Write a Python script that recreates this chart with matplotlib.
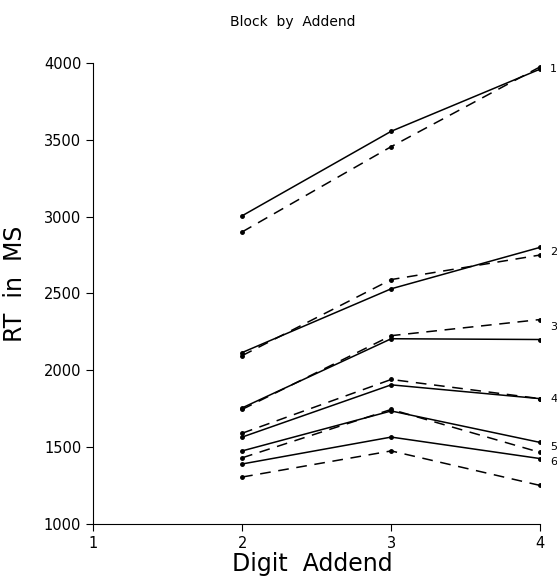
import matplotlib
matplotlib.use("Agg")
import matplotlib.pyplot as plt

# data
addend = [2, 3, 4]
blocks = ["1", "2", "3", "4", "5", "6"]
solid = [
    [3005, 3555, 3960],
    [2115, 2530, 2800],
    [1755, 2205, 2200],
    [1565, 1905, 1815],
    [1475, 1735, 1530],
    [1390, 1565, 1425],
]
dashed = [
    [2900, 3455, 3975],
    [2095, 2590, 2750],
    [1745, 2225, 2330],
    [1590, 1940, 1815],
    [1430, 1745, 1465],
    [1305, 1475, 1250],
]
label_y = [3960, 2770, 2280, 1810, 1500, 1400]

fig = plt.figure(figsize=(5.57, 5.77), dpi=100)
ax = fig.add_axes([0.167, 0.092, 0.803, 0.799])

for s, d in zip(solid, dashed):
    ax.plot(addend, s, color="black", lw=1.1, marker="o", ms=2.5)
    ax.plot(addend, d, color="black", lw=1.1, ls=(0, (7, 5)), marker="o", ms=2.5)

# block numbers at the right end of each pair
for name, y in zip(blocks, label_y):
    ax.text(4.065, y, name, fontsize=8, va="center", ha="left", clip_on=False)

ax.set_xlim(1, 4)
ax.set_ylim(1000, 4000)
ax.set_xticks([1, 2, 3, 4])
ax.set_yticks([1000, 1500, 2000, 2500, 3000, 3500, 4000])
ax.spines["top"].set_visible(False)
ax.spines["right"].set_visible(False)
ax.tick_params(direction="out", length=5, labelsize=10.5)
ax.set_xlabel("Digit  Addend", fontsize=17)
ax.set_ylabel("RT  in  MS", fontsize=17)
ax.xaxis.set_label_coords(0.49, -0.062)
ax.yaxis.set_label_coords(-0.148, 0.52)
fig.text(0.525, 0.955, "Block  by  Addend", ha="center", fontsize=10)

fig.savefig("out.png", dpi=100)
